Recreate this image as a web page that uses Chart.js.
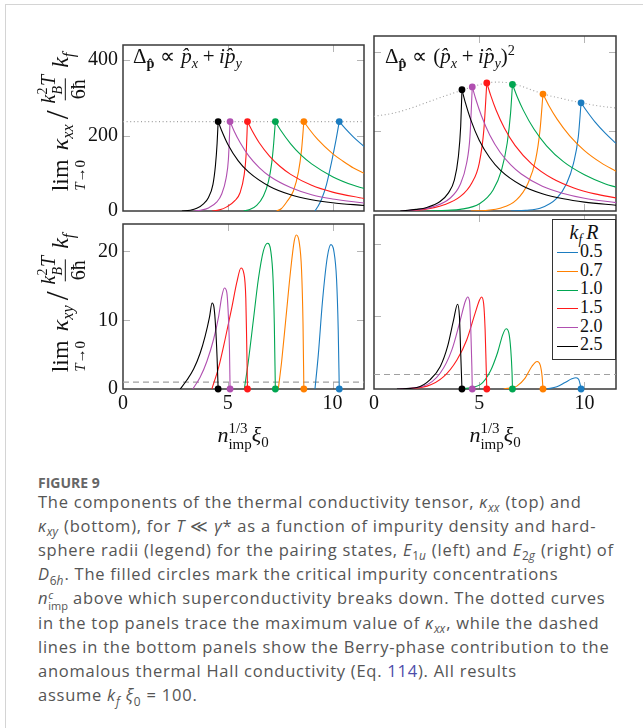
<!DOCTYPE html>
<html>
<head>
<meta charset="utf-8">
<script src="https://cdn.jsdelivr.net/npm/chart.js@4.4.1/dist/chart.umd.min.js"></script>
<style>
  body { margin: 0; background: #fff; }
  #page { position: relative; width: 643px; height: 728px; overflow: hidden; }
  #page:before { content: ""; position: absolute; left: 5px; top: 4px; right: -2px; bottom: -2px;
    border-left: 1.5px solid #d4d4d4; border-top: 1.5px solid #d4d4d4; }
  canvas { position: absolute; }
  .m { position: absolute; font-family: "Liberation Serif", serif; font-size: 21px; color: #111;
    white-space: nowrap; line-height: 1; }
  .m sub, .m sup { font-size: 0.68em; line-height: 0; }
  .rel { margin: 0 0.28em; }
  .bin { margin: 0 0.22em; }
  .ylab { transform: translate(-50%, -50%) rotate(-90deg); font-size: 24px; }
  .xlab { transform: translate(-50%, -50%); font-size: 22px; }
  .op { display: inline-flex; flex-direction: column; align-items: center; margin-right: 9px; }
  .op .lo { font-size: 15px; margin-top: 1px; }
  .frac { display: inline-flex; flex-direction: column; align-items: center; vertical-align: middle; font-size: 20px; }
  .frac > span { padding: 0 1px; }
  .frac > span:last-child { border-top: 1px solid #111; padding-top: 2px; }
  .ss { display: inline-flex; flex-direction: column; vertical-align: middle; font-size: 14px; line-height: 1.05; }
  .xlab .ss { font-size: 15px; }
  .sl { font-size: 32px; margin: 0 6px 0 5px; }
  .kf { margin-left: 6px; }
  #legend { position: absolute; left: 552px; top: 219px; width: 58px; height: 137px; border: 1.3px solid #333;
    background: #fff; padding: 2px 0 0 4px; font-family: "Liberation Serif", serif; font-size: 18px; color: #111; }
  #legend .lt { height: 20px; line-height: 20px; text-align: center; padding-right: 4px; font-size: 20px; }
  #legend .lt sub { font-size: 0.68em; line-height: 0; }
  #legend .lt .r { margin-left: 4px; }
  #legend .row { height: 18.7px; line-height: 18.7px; white-space: nowrap; }
  #legend .sw { display: inline-block; width: 21px; height: 0; border-top: 1.3px solid; vertical-align: middle; margin-right: 2px; }
  #cap { position: absolute; left: 38px; top: 474px; font-family: "Open Sans", sans-serif; color: #555; }
  #cap .fig { font-weight: 700; font-size: 14px; line-height: 18px; color: #666; }
  #cap .txt { position: absolute; top: 16px; left: 0; font-size: 16.5px; letter-spacing: 0.75px; line-height: 24.1px; white-space: nowrap; }
  #cap sub, #cap sup { font-size: 0.72em; line-height: 0; letter-spacing: 0; margin-right: 1px; }
  #cap .ss { font-size: 11px; line-height: 1; letter-spacing: 0; }
  #cap .link { color: #4d4daa; }
</style>
</head>
<body>
<div id="page">
  <canvas id="cTL"></canvas>
  <canvas id="cTR"></canvas>
  <canvas id="cBL"></canvas>
  <canvas id="cBR"></canvas>

  <div class="m" style="left:133px;top:46px">Δ<sub><b>p̂</b></sub><span class="rel">∝</span><i>p̂</i><sub><i>x</i></sub><span class="bin">+</span><i>ip̂</i><sub><i>y</i></sub></div>
  <div class="m" style="left:385px;top:46px">Δ<sub><b>p̂</b></sub><span class="rel">∝</span>(<i>p̂</i><sub><i>x</i></sub><span class="bin">+</span><i>ip̂</i><sub><i>y</i></sub>)<sup>2</sup></div>

  <div class="m ylab" style="left:62px;top:122px"><span class="op">lim<span class="lo"><i>T</i>→0</span></span><i>κ</i><sub><i>xx</i></sub><span class="sl">/</span><span class="frac"><span><i>k</i><span class="ss"><span>2</span><span><i>B</i></span></span><i>T</i></span><span>6ħ</span></span><span class="kf"><i>k</i><sub><i>f</i></sub></span></div>
  <div class="m ylab" style="left:62px;top:303px"><span class="op">lim<span class="lo"><i>T</i>→0</span></span><i>κ</i><sub><i>xy</i></sub><span class="sl">/</span><span class="frac"><span><i>k</i><span class="ss"><span>2</span><span><i>B</i></span></span><i>T</i></span><span>6ħ</span></span><span class="kf"><i>k</i><sub><i>f</i></sub></span></div>

  <div class="m xlab" style="left:243px;top:437px"><i>n</i><span class="ss"><span>1/3</span><span>imp</span></span><i>ξ</i><sub>0</sub></div>
  <div class="m xlab" style="left:495px;top:437px"><i>n</i><span class="ss"><span>1/3</span><span>imp</span></span><i>ξ</i><sub>0</sub></div>

  <div id="legend"><div class="lt"><i>k</i><sub><i>f</i></sub><i class="r">R</i></div></div>

  <div id="cap">
    <div class="fig">FIGURE 9</div>
    <div class="txt">The components of the thermal conductivity tensor, <i>κ<sub>xx</sub></i> (top) and<br><i>κ<sub>xy</sub></i> (bottom), for <i>T</i> ≪ <i>γ</i>* as a function of impurity density and hard-<br>sphere radii (legend) for the pairing states, <i>E</i><sub>1<i>u</i></sub> (left) and <i>E</i><sub>2<i>g</i></sub> (right) of<br><i>D</i><sub>6<i>h</i></sub>. The filled circles mark the critical impurity concentrations<br><i>n</i><span class="ss"><i>c</i><span>imp</span></span> above which superconductivity breaks down. The dotted curves<br>in the top panels trace the maximum value of <i>κ<sub>xx</sub></i>, while the dashed<br>lines in the bottom panels show the Berry-phase contribution to the<br>anomalous thermal Hall conductivity (Eq. <span class="link">114</span>). All results<br>assume <i>k<sub>f</sub></i> <i>ξ</i><sub>0</sub> = 100.</div>
  </div>
</div>

<script>
// Figure 9 — kappa_xx (top) and kappa_xy (bottom) vs n_imp^(1/3) xi_0, E1u (left) / E2g (right).
const KR = ["0.5", "0.7", "1.0", "1.5", "2.0", "2.5"];
const COLORS = ["#1b7cc0", "#ff8000", "#00a651", "#ff1a1a", "#b04fb0", "#000000"];

const X_TICKS = [0, 5, 10];
const XX_TICKS = [0, 200, 400];
const XY_TICKS = [0, 10, 20];
const X_MAX = 11.5, XX_MAX = 440, XY_MAX = 24;

// critical impurity concentrations (filled circles), same order as KR
const E1U_CRIT = [10.32, 8.63, 7.27, 5.94, 5.11, 4.54];
const E1U_XX_PEAK = [237, 237, 237, 237, 237, 237];
const E2G_CRIT = [9.84, 8.03, 6.58, 5.36, 4.67, 4.18];
const E2G_XX_PEAK = [272, 294, 318, 322, 312, 305];

// dotted trace of max kappa_xx, dashed Berry-phase level
const E1U_XX_MAX = [[0, 237], [11.5, 237]];
const E2G_XX_MAX = [[0, 238], [0.93, 246], [1.72, 258], [2.51, 273], [3.3, 288], [4.09, 302], [4.72, 313],
  [5.35, 322], [5.82, 324], [6.3, 323], [6.93, 315], [7.56, 303], [8.19, 292], [8.82, 284], [9.76, 273],
  [10.7, 264], [11.5, 259]];
const E1U_XY_BERRY = [[0, 1.0], [11.5, 1.0]];
const E2G_XY_BERRY = [[0, 2.0], [11.5, 2.0]];

// ---------- kappa_xx, E1u ----------
const XX_E1U_05 = [[9.16, 0], [9.3, 12], [9.48, 32], [9.71, 70], [9.95, 129], [10.16, 187], [10.32, 237],
  [10.6, 219], [11.0, 196], [11.5, 171]];
const XX_E1U_07 = [[7.33, 0], [7.55, 6], [7.81, 24], [8.13, 53], [8.37, 103], [8.52, 162], [8.63, 237],
  [8.9, 216], [9.3, 189], [10.0, 152], [10.5, 132], [11.0, 114], [11.5, 100]];
const XX_E1U_10 = [[5.75, 0], [6.05, 4], [6.38, 15], [6.7, 40], [6.94, 78], [7.1, 129], [7.19, 179], [7.27, 237],
  [7.5, 216], [8.0, 178], [8.5, 148], [9.0, 125], [10.0, 91], [11.0, 68], [11.5, 60]];
const XX_E1U_15 = [[4.24, 0], [4.6, 3], [4.95, 11], [5.35, 28], [5.59, 49], [5.78, 95], [5.87, 145], [5.94, 237],
  [6.15, 214], [6.5, 181], [7.0, 145], [7.5, 118], [8.0, 97], [9.0, 68], [10.0, 50], [11.5, 33]];
const XX_E1U_20 = [[3.37, 0], [3.7, 2], [4.08, 8], [4.48, 24], [4.71, 45], [4.92, 87], [5.03, 137], [5.11, 237],
  [5.3, 212], [5.6, 180], [6.0, 146], [6.5, 115], [7.0, 92], [8.0, 62], [9.0, 43], [10.0, 32], [11.5, 21]];
const XX_E1U_25 = [[2.81, 0], [3.2, 2], [3.52, 7], [3.84, 19], [4.08, 36], [4.29, 70], [4.41, 120], [4.49, 179],
  [4.54, 237], [4.7, 214], [5.0, 177], [5.5, 133], [6.0, 103], [7.0, 65], [8.0, 43], [9.0, 30], [10.0, 22],
  [11.5, 14.6]];

// ---------- kappa_xx, E2g ----------
const XX_E2G_05 = [[6.5, 0], [7.2, 2], [7.89, 7], [8.68, 32], [9.16, 70], [9.48, 120], [9.71, 187], [9.84, 272],
  [10.1, 252], [10.5, 224], [11.0, 195], [11.5, 170]];
const XX_E2G_07 = [[4.6, 0], [5.4, 2], [5.99, 7], [6.77, 28], [7.32, 70], [7.68, 129], [7.89, 204], [8.03, 294],
  [8.3, 266], [8.7, 231], [9.3, 189], [10.0, 152], [10.8, 121], [11.5, 100]];
const XX_E2G_10 = [[2.5, 0], [3.5, 2], [4.09, 4], [5.03, 19], [5.66, 53], [6.06, 103], [6.33, 171], [6.49, 246],
  [6.58, 318], [6.8, 288], [7.1, 253], [7.6, 206], [8.2, 164], [9.0, 124], [10.0, 91], [11.0, 68], [11.5, 60]];
const XX_E2G_15 = [[1.4, 0], [2.4, 4], [3.3, 15], [4.09, 36], [4.64, 70], [5.0, 120], [5.22, 204], [5.36, 322],
  [5.55, 290], [5.8, 254], [6.2, 208], [6.7, 165], [7.5, 118], [8.5, 81], [9.5, 58], [10.5, 43], [11.5, 33]];
const XX_E2G_20 = [[1.32, 0], [2.2, 4], [2.82, 11], [3.61, 32], [4.09, 66], [4.4, 120], [4.56, 187], [4.67, 312],
  [4.85, 279], [5.1, 240], [5.5, 191], [6.0, 147], [6.5, 116], [7.0, 93], [8.0, 62], [9.0, 44], [10.0, 32],
  [11.5, 21]];
const XX_E2G_25 = [[1.25, 0], [2.0, 4], [2.51, 9], [3.14, 24], [3.53, 45], [3.82, 78], [4.01, 137], [4.12, 213],
  [4.18, 305], [4.35, 271], [4.6, 229], [5.0, 178], [5.5, 134], [6.0, 103], [7.0, 65], [8.0, 43.5], [9.0, 30.6],
  [10.0, 22.3], [11.5, 14.6]];

// ---------- kappa_xy, E1u ----------
const XY_E1U_05 = [[9.16, 0], [9.32, 5], [9.52, 12.8], [9.75, 19.2], [9.92, 21], [10.06, 20.1], [10.19, 16],
  [10.27, 8.6], [10.32, 0]];
const XY_E1U_07 = [[7.41, 0], [7.57, 4], [7.78, 10.5], [8.0, 17.3], [8.17, 21.5], [8.27, 22.4], [8.4, 21.5],
  [8.52, 17.3], [8.59, 9.5], [8.63, 0]];
const XY_E1U_10 = [[5.79, 0], [5.98, 4], [6.22, 10], [6.46, 16], [6.7, 20.1], [6.9, 21.2], [7.05, 20.1],
  [7.16, 16], [7.22, 9.5], [7.27, 0]];
const XY_E1U_15 = [[4.24, 0], [4.56, 3.1], [4.87, 7.2], [5.19, 11.8], [5.43, 15.5], [5.63, 17.6], [5.76, 16.9],
  [5.86, 13.2], [5.9, 7.2], [5.94, 0]];
const XY_E1U_20 = [[3.33, 0], [3.68, 1.7], [4.0, 4.0], [4.32, 7.2], [4.56, 10.5], [4.71, 13.4], [4.84, 14.7],
  [4.95, 14.1], [5.03, 10.5], [5.08, 5.9], [5.11, 0]];
const XY_E1U_25 = [[2.73, 0], [3.05, 1.3], [3.37, 2.9], [3.68, 5.2], [3.92, 7.7], [4.13, 10.5], [4.25, 12.5],
  [4.34, 11.9], [4.42, 9], [4.49, 4.5], [4.54, 0]];

// ---------- kappa_xy, E2g ----------
const XY_E2G_05 = [[8.21, 0], [8.69, 0.3], [9.08, 0.9], [9.4, 1.4], [9.6, 1.56], [9.73, 1.3], [9.8, 0.6], [9.84, 0]];
const XY_E2G_07 = [[6.16, 0], [6.79, 0.4], [7.18, 1.5], [7.5, 3.1], [7.75, 3.8], [7.9, 3.3], [7.99, 1.7], [8.03, 0]];
const XY_E2G_10 = [[4.1, 0], [5.05, 0.6], [5.52, 2.4], [5.87, 5], [6.12, 7.5], [6.28, 8.3], [6.41, 7.7],
  [6.5, 5.4], [6.56, 2.2], [6.58, 0]];
const XY_E2G_15 = [[1.25, 0], [2.52, 0.4], [3.31, 1.7], [3.94, 4], [4.41, 6.8], [4.81, 10.5], [5.02, 12.3],
  [5.11, 12.7], [5.21, 11.8], [5.28, 8.2], [5.33, 3.1], [5.36, 0]];
const XY_E2G_20 = [[1.17, 0], [2.36, 0.4], [3.15, 2.2], [3.7, 5.4], [4.1, 9.5], [4.34, 12.1], [4.45, 12.7],
  [4.54, 12.1], [4.6, 8.2], [4.65, 3.1], [4.67, 0]];
const XY_E2G_25 = [[1.09, 0], [2.04, 0.2], [2.67, 1.3], [3.15, 3.1], [3.5, 5.9], [3.78, 9.5], [3.97, 11.7],
  [4.06, 10], [4.12, 5], [4.18, 0]];

// ---------- helpers ----------
const INK = "#111", REF = "#a0a0a0";
const TICK_FONT = { family: "Liberation Serif", size: 20 };
const PAD_L = 60, PAD_R = 8, PAD_T = 8, PAD_B = 30, AX_W = 54, AX_H = 30;

const pts = (arr) => arr.map(([x, y]) => ({ x, y }));

function lineDs(arr, color) {
  return { data: pts(arr), borderColor: color, borderWidth: 1.1, pointRadius: 0, fill: false,
    cubicInterpolationMode: "monotone" };
}

function refDs(arr, dash) {
  return { data: pts(arr), borderColor: REF, borderWidth: 1.1, borderDash: dash, pointRadius: 0, fill: false,
    cubicInterpolationMode: "monotone" };
}

// axis box + grey inward tick marks, pgfplots style
const framePlugin = {
  id: "frame",
  beforeDatasetsDraw(chart, args, o) {
    const { ctx, chartArea: a, scales: { x, y } } = chart;
    const seg = (x0, y0, x1, y1) => { ctx.beginPath(); ctx.moveTo(x0, y0); ctx.lineTo(x1, y1); ctx.stroke(); };
    ctx.save();
    ctx.strokeStyle = "#b5b5b5"; ctx.lineWidth = 1;
    o.xt.forEach((v) => { const p = Math.round(x.getPixelForValue(v)) + 0.5;
      seg(p, a.top, p, a.top + 7); seg(p, a.bottom, p, a.bottom - 7); });
    o.yt.forEach((v) => { const p = Math.round(y.getPixelForValue(v)) + 0.5;
      seg(a.left, p, a.left + 7, p); seg(a.right, p, a.right - 7, p); });
    ctx.strokeStyle = "#3a3a3a"; ctx.lineWidth = 1.5;
    ctx.strokeRect(a.left, a.top, a.right - a.left, a.bottom - a.top);
    ctx.restore();
  },
};

function panel(id, area, o) {
  const c = document.getElementById(id);
  c.width = area.r - area.l + PAD_L + PAD_R;
  c.height = area.b - area.t + PAD_T + PAD_B;
  c.style.left = area.l - PAD_L + "px";
  c.style.top = area.t - PAD_T + "px";

  const datasets = [{ type: "scatter", data: o.critX.map((x, i) => ({ x, y: o.critY[i] })), pointRadius: 3.4,
    pointBackgroundColor: COLORS, pointBorderWidth: 0, clip: false }];
  o.series.slice().reverse().forEach((s) => {
    const color = COLORS[o.series.indexOf(s)];
    if (o.cusp) {
      // rising and decaying branches meet in a cusp at the peak
      const k = s.reduce((m, p, j) => (p[1] > s[m][1] ? j : m), 0);
      datasets.push(lineDs(s.slice(0, k + 1), color), lineDs(s.slice(k), color));
    } else datasets.push(lineDs(s, color));
  });
  datasets.push(refDs(o.ref, o.dash));

  new Chart(c, {
    type: "line",
    data: { datasets },
    options: {
      responsive: false, animation: false, events: [],
      layout: { padding: { left: PAD_L - AX_W, right: PAD_R, top: PAD_T, bottom: PAD_B - AX_H } },
      plugins: { legend: { display: false }, tooltip: { enabled: false }, frame: { xt: [5, 10], yt: o.yt.slice(1) } },
      scales: {
        x: { type: "linear", min: 0, max: X_MAX, grid: { display: false, drawTicks: false }, border: { display: false },
          afterBuildTicks: (s) => { s.ticks = X_TICKS.map((v) => ({ value: v })); },
          afterFit: (s) => { s.height = AX_H; },
          ticks: { display: o.xLabels, padding: 3, color: INK, font: TICK_FONT, maxRotation: 0 } },
        y: { type: "linear", min: 0, max: o.yMax, grid: { display: false, drawTicks: false }, border: { display: false },
          afterBuildTicks: (s) => { s.ticks = o.yt.map((v) => ({ value: v })); },
          afterFit: (s) => { s.width = AX_W; },
          ticks: { display: o.yLabels, padding: 5, color: INK, font: TICK_FONT } },
      },
    },
    plugins: [framePlugin],
  });
}

// ---------- legend ----------
function legend() {
  const box = document.getElementById("legend");
  KR.forEach((k, i) => {
    const r = document.createElement("div");
    r.className = "row";
    r.innerHTML = `<span class="sw" style="border-color:${COLORS[i]}"></span>${k}`;
    box.appendChild(r);
  });
}

function init() {
  const zeros = E1U_CRIT.map(() => 0);
  panel("cTL", { l: 123, t: 36, r: 364, b: 211 }, { series: [XX_E1U_05, XX_E1U_07, XX_E1U_10, XX_E1U_15, XX_E1U_20, XX_E1U_25],
    critX: E1U_CRIT, critY: E1U_XX_PEAK, ref: E1U_XX_MAX, dash: [1, 2.6], yMax: XX_MAX, yt: XX_TICKS,
    xLabels: false, yLabels: true, cusp: true });
  panel("cTR", { l: 374, t: 36, r: 616, b: 211 }, { series: [XX_E2G_05, XX_E2G_07, XX_E2G_10, XX_E2G_15, XX_E2G_20, XX_E2G_25],
    critX: E2G_CRIT, critY: E2G_XX_PEAK, ref: E2G_XX_MAX, dash: [1, 2.6], yMax: XX_MAX, yt: XX_TICKS,
    xLabels: false, yLabels: false, cusp: true });
  panel("cBL", { l: 123, t: 215, r: 364, b: 389 }, { series: [XY_E1U_05, XY_E1U_07, XY_E1U_10, XY_E1U_15, XY_E1U_20, XY_E1U_25],
    critX: E1U_CRIT, critY: zeros, ref: E1U_XY_BERRY, dash: [6, 4], yMax: XY_MAX, yt: XY_TICKS,
    xLabels: true, yLabels: true, cusp: false });
  panel("cBR", { l: 374, t: 215, r: 616, b: 389 }, { series: [XY_E2G_05, XY_E2G_07, XY_E2G_10, XY_E2G_15, XY_E2G_20, XY_E2G_25],
    critX: E2G_CRIT, critY: zeros, ref: E2G_XY_BERRY, dash: [6, 4], yMax: XY_MAX, yt: XY_TICKS,
    xLabels: true, yLabels: false, cusp: false });
  legend();
}
init();
</script>
</body>
</html>
